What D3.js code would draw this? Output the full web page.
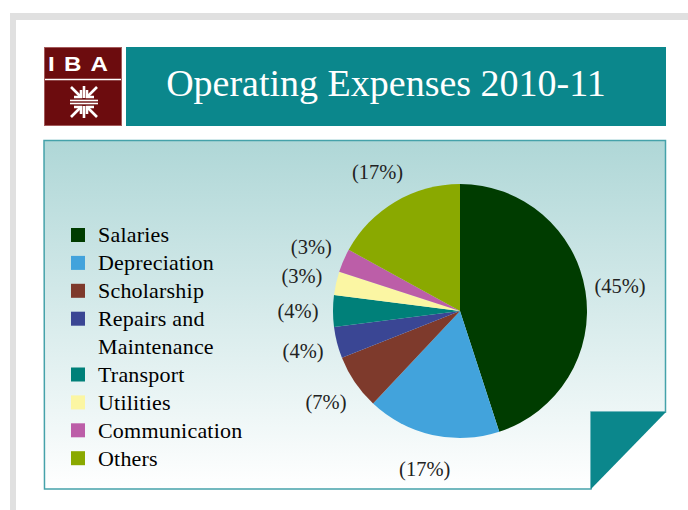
<!DOCTYPE html>
<html>
<head>
<meta charset="utf-8">
<script src="https://cdn.jsdelivr.net/npm/d3@7"></script>
<style>
  body { margin: 0; background: #fff; }
  svg { display: block; }
</style>
</head>
<body>
<script>
// Operating expenses 2010-11, share of total (%)
var categories = ["Salaries", "Depreciation", "Scholarship", "Repairs and Maintenance",
                  "Transport", "Utilities", "Communication", "Others"];
var values = [45, 17, 7, 4, 4, 3, 3, 17];
var colors = ["#003c00", "#42a3dc", "#7e3a2c", "#3a4694", "#008079", "#fbf6a3", "#bc5ea8", "#8aa900"];
var title = "Operating Expenses 2010-11";

var width = 688, height = 510;
var teal = "#0b878c";

var svg = d3.select("body").append("svg")
    .attr("width", width)
    .attr("height", height);

var defs = svg.append("defs");
var grad = defs.append("linearGradient")
    .attr("id", "panelGrad")
    .attr("x1", 0).attr("y1", 0).attr("x2", 0).attr("y2", 1);
grad.append("stop").attr("offset", "0%").attr("stop-color", "#afd7d7");
grad.append("stop").attr("offset", "100%").attr("stop-color", "#ffffff");

// grey frame
svg.append("rect").attr("x", 10).attr("y", 13).attr("width", width - 10).attr("height", 7).attr("fill", "#e0e0e0");
svg.append("rect").attr("x", 10).attr("y", 13).attr("width", 6).attr("height", height - 13).attr("fill", "#e0e0e0");

// logo
var logo = svg.append("g");
logo.append("rect")
    .attr("x", 44.5).attr("y", 47.5).attr("width", 77).attr("height", 78)
    .attr("fill", "#6c0c0e").attr("stroke", "#a35a5a").attr("stroke-width", 1);
logo.append("line")
    .attr("x1", 45).attr("x2", 121).attr("y1", 79.5).attr("y2", 79.5)
    .attr("stroke", "#fff").attr("stroke-width", 1.5);
logo.append("text")
    .attr("transform", "translate(48,71) scale(1.15,1)")
    .attr("fill", "#fff")
    .style("font-family", "'Liberation Sans', Arial, sans-serif")
    .style("font-weight", "bold")
    .style("font-size", "21px")
    .style("letter-spacing", "8px")
    .text("IBA");

var mark = logo.append("g")
    .attr("transform", "translate(84,102)")
    .attr("stroke", "#fff").attr("stroke-width", 2.6).attr("fill", "none");
[1, -1].forEach(function(s) {
  mark.append("line").attr("x1", 0).attr("y1", s * 16).attr("x2", 0).attr("y2", s * 4);
  mark.append("line").attr("x1", -13).attr("y1", s * 15).attr("x2", -3).attr("y2", s * 5);
  mark.append("line").attr("x1", 13).attr("y1", s * 15).attr("x2", 3).attr("y2", s * 5);
  mark.append("path").attr("d", "M-10," + (s * 5) + "H-3V" + (s * 12));
  mark.append("path").attr("d", "M10," + (s * 5) + "H3V" + (s * 12));
  mark.append("line").attr("x1", -14).attr("y1", s * 1.5).attr("x2", 14).attr("y2", s * 1.5).attr("stroke-width", 1.6);
});

// title bar
svg.append("rect")
    .attr("x", 126).attr("y", 47).attr("width", 540).attr("height", 79)
    .attr("fill", teal);
svg.append("text")
    .attr("x", 386).attr("y", 96)
    .attr("text-anchor", "middle")
    .attr("fill", "#fff")
    .style("font-family", "'Liberation Serif', 'Times New Roman', serif")
    .style("font-size", "38px")
    .text(title);

// chart panel with folded corner
svg.append("path")
    .attr("d", "M44,140.5H665.5V412H591V489H44.5Z")
    .attr("fill", "url(#panelGrad)")
    .attr("stroke", "#45a2aa")
    .attr("stroke-width", 1.5);
svg.append("path")
    .attr("d", "M591,412H666L591,489Z")
    .attr("fill", teal);

// pie
var cx = 460, cy = 311, radius = 127;
var total = d3.sum(values);

var pie = d3.pie().sort(null).value(function(d) { return d.value; });
var arc = d3.arc().innerRadius(0).outerRadius(radius);
var labelArc = d3.arc().innerRadius(162).outerRadius(162);

var rows = categories.map(function(c, i) { return {name: c, value: values[i], color: colors[i]}; });
var arcs = pie(rows);

var g = svg.append("g").attr("transform", "translate(" + cx + "," + cy + ")");

g.selectAll("path.slice")
    .data(arcs)
  .enter().append("path")
    .attr("class", "slice")
    .attr("d", arc)
    .attr("fill", function(d) { return d.data.color; });

g.selectAll("text.pct")
    .data(arcs)
  .enter().append("text")
    .attr("class", "pct")
    .attr("transform", function(d) { return "translate(" + labelArc.centroid(d) + ")"; })
    .attr("text-anchor", "middle")
    .attr("dy", "0.35em")
    .attr("fill", "#222")
    .style("font-family", "'Liberation Serif', 'Times New Roman', serif")
    .style("font-size", "20.5px")
    .text(function(d) { return "(" + d3.format(".0f")(d.data.value / total * 100) + "%)"; });

// legend
var legendX = 78, textX = 98, legendTop = 235, lineStep = 27.9, wrapWidth = 150;
var legend = svg.append("g");
var line = 0;

rows.forEach(function(r) {
  var y = legendTop + line * lineStep;
  legend.append("rect")
      .attr("x", legendX - 7).attr("y", y - 7)
      .attr("width", 14).attr("height", 14)
      .attr("fill", r.color);

  var t = legend.append("text")
      .attr("x", textX).attr("y", y)
      .attr("dy", "0.34em")
      .attr("fill", "#000")
      .style("font-family", "'Liberation Serif', 'Times New Roman', serif")
      .style("font-size", "22px")
      .style("letter-spacing", "0.2px");

  // simple word wrap
  var words = r.name.split(" "), cur = [], n = 0;
  var tspan = t.append("tspan").attr("x", textX);
  words.forEach(function(w) {
    cur.push(w);
    tspan.text(cur.join(" "));
    if (tspan.node().getComputedTextLength() > wrapWidth && cur.length > 1) {
      cur.pop();
      tspan.text(cur.join(" "));
      cur = [w];
      n++;
      tspan = t.append("tspan").attr("x", textX).attr("dy", lineStep + "px").text(w);
    }
  });
  line += n + 1;
});
</script>
</body>
</html>
